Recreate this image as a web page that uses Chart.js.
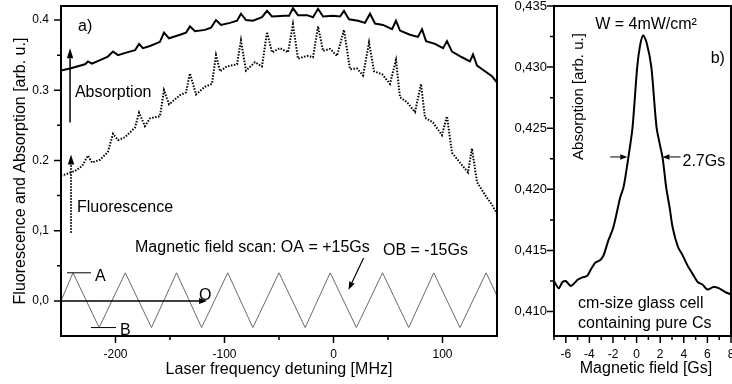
<!DOCTYPE html>
<html><head><meta charset="utf-8">
<script src="https://cdn.jsdelivr.net/npm/chart.js@4.4.1/dist/chart.umd.min.js"></script>
<style>
html,body{margin:0;padding:0;background:#fff;width:732px;height:384px;overflow:hidden}
#c1{position:absolute;left:0;top:0}
#c2{position:absolute;left:500px;top:0}
</style></head><body>
<canvas id="c1" width="500" height="384"></canvas>
<canvas id="c2" width="232" height="384"></canvas>
<script>
// ---------- data: panel a) ----------
const absX = [-250,-241.7,-228,-225.2,-221.6,-214.2,-207,-202.3,-197.7,-189.4,-182.1,-178.4,-174.8,-168.3,-159.2,-155.5,-150.9,-140.8,-135.3,-131.7,-127.1,-117.9,-112.4,-107.8,-103.2,-95,-88.5,-84.9,-80.3,-73.9,-65.6,-61,-56.4,-44.5,-40.8,-37.2,-32.6,-24.3,-18.8,-14.2,-9.6,-0.5,6,9.6,14.2,22.5,28.9,33.5,38.1,45.4,53.7,57.3,61,70.2,77.5,81.2,84.9,93.1,100.5,104.1,108.7,117.9,125.2,128,131.7,139,145.4,150];
const absY = [0.328,0.331,0.337,0.341,0.338,0.343,0.348,0.355,0.350,0.354,0.357,0.366,0.360,0.363,0.369,0.382,0.374,0.379,0.382,0.391,0.384,0.386,0.389,0.400,0.393,0.396,0.399,0.409,0.400,0.399,0.404,0.413,0.405,0.406,0.406,0.417,0.407,0.407,0.404,0.416,0.405,0.406,0.405,0.413,0.401,0.399,0.396,0.409,0.395,0.393,0.387,0.399,0.385,0.379,0.376,0.387,0.370,0.366,0.360,0.370,0.355,0.347,0.341,0.351,0.335,0.327,0.320,0.311];
const fluX = [-250,-246.3,-237.2,-230.7,-225.2,-221.6,-214.2,-207,-202.3,-197.7,-191.3,-182.1,-178.4,-173,-168.3,-159.2,-155.5,-150.9,-140.8,-135.3,-131.7,-126.1,-117.9,-111.5,-107.8,-104.1,-97.7,-88.5,-84.9,-80.3,-72,-65.6,-61,-56.4,-49.1,-41.7,-37.2,-32.6,-24.3,-18.8,-14.2,-9.6,-3.2,3.2,9.6,15.1,21.6,27.1,32.6,37.2,44.5,51.8,57.3,61,67.4,74.8,80.3,83.9,91.3,99.5,104.1,108.7,116,123.4,127,131.7,139,145.4,150];
const fluY = [0.178,0.180,0.185,0.192,0.207,0.197,0.201,0.212,0.238,0.229,0.233,0.247,0.268,0.249,0.260,0.263,0.300,0.280,0.293,0.297,0.324,0.294,0.305,0.309,0.350,0.327,0.334,0.337,0.371,0.328,0.340,0.334,0.383,0.354,0.360,0.354,0.394,0.345,0.349,0.347,0.391,0.356,0.359,0.349,0.386,0.330,0.331,0.321,0.368,0.327,0.323,0.309,0.343,0.290,0.283,0.269,0.309,0.261,0.254,0.236,0.263,0.211,0.197,0.183,0.217,0.169,0.151,0.137,0.124];
const scanX = [-250,-239,-215,-191,-167,-144,-121,-97,-74,-50,-26,-3,21,45,69,92,116,140,150];
const scanY = [0,0.04,-0.038,0.04,-0.038,0.04,-0.038,0.04,-0.038,0.04,-0.038,0.04,-0.038,0.04,-0.038,0.04,-0.038,0.04,0.0075];
const aXMajor = [-200,-100,0,100];
const aXLabels = ['-200','-100','0','100'];
const aXMinor = [-150,-50,50];
const aYMajor = [0,0.1,0.2,0.3,0.4];
const aYLabels = ['0,0','0,1','0.2','0.3','0.4'];
const aYMinor = [0.05,0.15,0.25,0.35];

// ---------- data: panel b) ----------
const fieldX = [-7,-6.6,-6.3,-6.0,-5.6,-5.3,-5.0,-4.6,-4.2,-3.9,-3.5,-3.1,-2.8,-2.4,-2.0,-1.7,-1.4,-1.1,-0.7,-0.35,0.05,0.3,0.55,0.85,1.25,1.7,2.2,2.5,2.8,3.05,3.5,3.9,4.3,4.8,5.2,5.6,6.0,6.5,7.0,7.5,8.0];
const fieldY = [0.4125,0.4119,0.4124,0.4125,0.4121,0.4123,0.4126,0.4128,0.4129,0.4134,0.4140,0.4142,0.4146,0.4158,0.4168,0.4180,0.4193,0.4202,0.4226,0.4250,0.4300,0.4318,0.4326,0.4320,0.4300,0.4250,0.4226,0.4202,0.4185,0.4169,0.4153,0.4146,0.4138,0.4130,0.4124,0.4122,0.4118,0.4120,0.4119,0.4116,0.4114];
const bXMajor = [-6,-4,-2,0,2,4,6,8];
const bXLabels = ['-6','-4','-2','0','2','4','6','8'];
const bXMinor = [-7,-5,-3,-1,1,3,5,7];
const bYMajor = [0.410,0.415,0.420,0.425,0.430,0.435];
const bYLabels = ['0,410','0,415','0,420','0,425','0,430','0,435'];
const bYMinor = [0.4125,0.4175,0.4225,0.4275,0.4325];

const FONT = "'Liberation Sans', Arial, sans-serif";
Chart.defaults.font.family = FONT;
Chart.defaults.color = '#000';

const pts = (xs, ys) => xs.map((x, i) => ({x: x, y: ys[i]}));

function txt(ctx, s, x, y, o) {
  o = o || {};
  ctx.save();
  ctx.font = (o.size || 16) + 'px ' + FONT;
  ctx.fillStyle = '#000';
  ctx.textAlign = o.align || 'left';
  ctx.textBaseline = o.base || 'alphabetic';
  ctx.translate(x, y);
  if (o.rot) ctx.rotate(o.rot);
  ctx.fillText(s, 0, 0);
  ctx.restore();
}
function arrow(ctx, x1, y1, x2, y2, o) {
  o = o || {};
  const lw = o.lw || 1.5, head = o.head || 9, hw = o.hw || 3.5;
  const a = Math.atan2(y2 - y1, x2 - x1);
  const bx = x2 - head * Math.cos(a), by = y2 - head * Math.sin(a);
  ctx.save();
  ctx.strokeStyle = '#000'; ctx.fillStyle = '#000'; ctx.lineWidth = lw;
  if (o.dash) ctx.setLineDash(o.dash);
  ctx.beginPath(); ctx.moveTo(x1, y1); ctx.lineTo(bx, by); ctx.stroke();
  ctx.setLineDash([]);
  ctx.beginPath(); ctx.moveTo(x2, y2);
  ctx.lineTo(bx + hw * Math.sin(a), by - hw * Math.cos(a));
  ctx.lineTo(bx - hw * Math.sin(a), by + hw * Math.cos(a));
  ctx.closePath(); ctx.fill();
  ctx.restore();
}
function line(ctx, x1, y1, x2, y2, lw) {
  ctx.save(); ctx.strokeStyle = '#000'; ctx.lineWidth = lw || 1;
  ctx.beginPath(); ctx.moveTo(x1, y1); ctx.lineTo(x2, y2); ctx.stroke(); ctx.restore();
}
function frameAndTicks(chart, xMaj, xMin, yMaj, yMin) {
  const ctx = chart.ctx, ca = chart.chartArea, sx = chart.scales.x, sy = chart.scales.y;
  ctx.save();
  ctx.strokeStyle = '#000'; ctx.lineWidth = 1.5;
  ctx.beginPath();
  xMaj.forEach(v => { const p = sx.getPixelForValue(v); ctx.moveTo(p, ca.bottom); ctx.lineTo(p, ca.bottom + 7); });
  xMin.forEach(v => { const p = sx.getPixelForValue(v); ctx.moveTo(p, ca.bottom); ctx.lineTo(p, ca.bottom + 4); });
  yMaj.forEach(v => { const p = sy.getPixelForValue(v); ctx.moveTo(ca.left, p); ctx.lineTo(ca.left - 7, p); });
  yMin.forEach(v => { const p = sy.getPixelForValue(v); ctx.moveTo(ca.left, p); ctx.lineTo(ca.left - 4, p); });
  ctx.stroke();
  ctx.lineWidth = 2;
  ctx.strokeRect(ca.left, ca.top, ca.right - ca.left, ca.bottom - ca.top);
  ctx.restore();
}

const annotA = {
  id: 'annotA',
  afterDraw(chart) {
    const ctx = chart.ctx, ca = chart.chartArea, sx = chart.scales.x, sy = chart.scales.y;
    const X = v => sx.getPixelForValue(v), Y = v => sy.getPixelForValue(v);
    frameAndTicks(chart, aXMajor, aXMinor, aYMajor, aYMinor);
    line(ctx, X(-244.5), Y(0.04), X(-222.5), Y(0.04), 1);
    line(ctx, X(-222.5), Y(-0.038), X(-199.5), Y(-0.038), 1);
    arrow(ctx, X(-250), Y(0), X(-116), Y(0), {lw: 1.5, head: 8, hw: 3});
    txt(ctx, 'A', X(-218.8), Y(0.029));
    txt(ctx, 'B', X(-195.9), Y(-0.049));
    txt(ctx, 'O', X(-123.4), Y(0.0014));
    txt(ctx, 'Magnetic field scan: OA = +15Gs', X(-182.1), Y(0.069));
    txt(ctx, 'OB = -15Gs', X(45.4), Y(0.066));
    arrow(ctx, X(27.6), Y(0.061), X(13.8), Y(0.016), {lw: 1.2, head: 8, hw: 3});
    txt(ctx, 'a)', X(-234.4), Y(0.384));
    txt(ctx, 'Absorption', X(-237.2), Y(0.291));
    txt(ctx, 'Fluorescence', X(-235.3), Y(0.126));
    arrow(ctx, X(-241.7), Y(0.254), X(-241.7), Y(0.36), {lw: 1.5, head: 10, hw: 3.2});
    arrow(ctx, X(-240.8), Y(0.097), X(-240.8), Y(0.2086), {lw: 2, head: 10, hw: 3.2, dash: [1.5, 1.5]});
    txt(ctx, 'Laser frequency detuning [MHz]', (ca.left + ca.right) / 2, 374, {align: 'center'});
    txt(ctx, 'Fluorescence and Absorption [arb. u.]', 25, (ca.top + ca.bottom) / 2, {align: 'center', rot: -Math.PI / 2});
  }
};

const annotB = {
  id: 'annotB',
  afterDraw(chart) {
    const ctx = chart.ctx, ca = chart.chartArea, sx = chart.scales.x, sy = chart.scales.y;
    const X = v => sx.getPixelForValue(v), Y = v => sy.getPixelForValue(v);
    frameAndTicks(chart, bXMajor, bXMinor, bYMajor, bYMinor);
    txt(ctx, 'W = 4mW/cm\u00B2', X(-3.51), Y(0.4331));
    txt(ctx, 'b)', X(6.28), Y(0.4303));
    txt(ctx, '2.7Gs', X(3.89), Y(0.4219));
    arrow(ctx, X(-2.23), Y(0.42265), X(-0.79), Y(0.42265), {lw: 1, head: 7, hw: 2.8});
    arrow(ctx, X(3.72), Y(0.42265), X(2.19), Y(0.42265), {lw: 1, head: 7, hw: 2.8});
    txt(ctx, 'Absorption [arb. u.]', X(-4.53), Y(0.42759), {size: 15, align: 'center', rot: -Math.PI / 2});
    txt(ctx, 'cm-size glass cell', X(-4.96), Y(0.41033));
    txt(ctx, 'containing pure Cs', X(-4.96), Y(0.40869));
    txt(ctx, 'Magnetic field [Gs]', 146, 373, {align: 'center'});
  }
};

const noPad = s => { s.paddingLeft = 0; s.paddingRight = 0; s.paddingTop = 0; s.paddingBottom = 0; };
const gridOff = {display: false, drawTicks: false, tickLength: 0};

new Chart(document.getElementById('c1'), {
  type: 'line',
  data: {datasets: [
    {data: pts(scanX, scanY), borderColor: '#6a6a6a', borderWidth: 1, pointRadius: 0, tension: 0},
    {data: pts(absX, absY), borderColor: '#000', borderWidth: 2, pointRadius: 0, tension: 0},
    {data: pts(fluX, fluY), borderColor: '#000', borderWidth: 2, borderDash: [1.5, 1.5], pointRadius: 0, tension: 0}
  ]},
  options: {
    responsive: false, animation: false, devicePixelRatio: 1,
    layout: {padding: {top: 6, right: 3, left: 0, bottom: 0}},
    plugins: {legend: {display: false}, tooltip: {enabled: false}},
    scales: {
      x: {type: 'linear', min: -250, max: 150,
        grid: gridOff, border: {display: false},
        afterBuildTicks: s => { s.ticks = aXMajor.map(v => ({value: v})); },
        afterFit: s => { s.height = 48; noPad(s); },
        ticks: {padding: 11, color: '#000', font: {size: 12}, maxRotation: 0, autoSkip: false,
          callback: (v, i) => aXLabels[i]}},
      y: {type: 'linear', min: -0.05, max: 0.42,
        grid: gridOff, border: {display: false},
        afterBuildTicks: s => { s.ticks = aYMajor.map(v => ({value: v})); },
        afterFit: s => { s.width = 61; noPad(s); },
        ticks: {padding: 12, color: '#000', font: {size: 12}, autoSkip: false,
          callback: (v, i) => aYLabels[i]}}
    }
  },
  plugins: [annotA]
});

new Chart(document.getElementById('c2'), {
  type: 'line',
  data: {datasets: [
    {data: pts(fieldX, fieldY), borderColor: '#000', borderWidth: 2, pointRadius: 0, tension: 0.25}
  ]},
  options: {
    responsive: false, animation: false, devicePixelRatio: 1,
    layout: {padding: {top: 6, right: 1, left: 0, bottom: 0}},
    plugins: {legend: {display: false}, tooltip: {enabled: false}},
    scales: {
      x: {type: 'linear', min: -7, max: 8,
        grid: gridOff, border: {display: false},
        afterBuildTicks: s => { s.ticks = bXMajor.map(v => ({value: v})); },
        afterFit: s => { s.height = 48; noPad(s); },
        ticks: {padding: 11, color: '#000', font: {size: 12}, maxRotation: 0, autoSkip: false,
          callback: (v, i) => bXLabels[i]}},
      y: {type: 'linear', min: 0.408, max: 0.435,
        grid: gridOff, border: {display: false},
        afterBuildTicks: s => { s.ticks = bYMajor.map(v => ({value: v})); },
        afterFit: s => { s.width = 54; noPad(s); },
        ticks: {padding: 7, color: '#000', font: {size: 13}, autoSkip: false,
          callback: (v, i) => bYLabels[i]}}
    }
  },
  plugins: [annotB]
});
</script>
</body></html>
